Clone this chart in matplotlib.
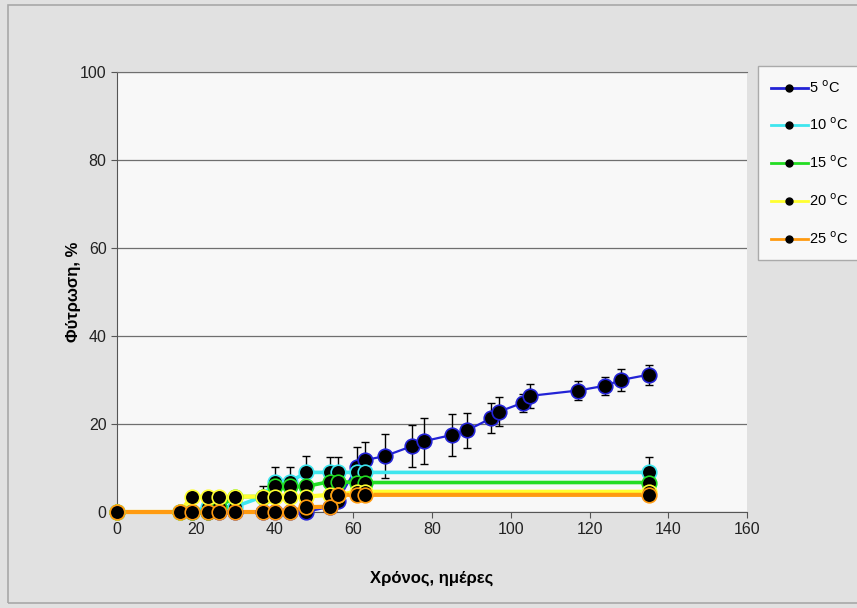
import matplotlib
matplotlib.use('Agg')
import matplotlib.pyplot as plt
from matplotlib.lines import Line2D
from matplotlib.patches import Rectangle
import numpy as np

plt.rcParams['font.family'] = ['Liberation Sans', 'DejaVu Sans']

# sampling days (common to all temperatures)
days = [0, 16, 19, 23, 26, 30, 37, 40, 44, 48, 54, 56, 61, 63, 135]

# 5 oC was followed for longer
days_5 = [0, 16, 19, 23, 26, 30, 37, 40, 44, 48, 54, 56, 61, 63, 68, 75, 78,
          85, 89, 95, 97, 103, 105, 117, 124, 128, 135]
germ_5 = [0, 0, 0, 0, 0, 0, 0, 0, 0, 0, 1.2, 2.5, 10.3, 11.8, 12.7, 15.0, 16.1,
          17.5, 18.6, 21.3, 22.8, 24.8, 26.4, 27.6, 28.7, 30.0, 31.2]
err_5 = [0, 0, 0, 0, 0, 0, 0, 0, 0, 0, 0, 0, 4.4, 4.2, 5.0, 4.7, 5.2,
         4.7, 4.0, 3.4, 3.3, 2.1, 2.8, 2.1, 2.0, 2.5, 2.3]

germ_10 = [0, 0, 0, 1.2, 1.2, 1.2, 3.5, 6.9, 6.9, 9.0, 9.0, 9.0, 9.0, 9.0, 9.0]
err_10 = [0, 0, 0, 0, 0, 0, 0, 3.4, 3.4, 3.8, 3.4, 3.4, 0, 0, 3.6]

germ_15 = [0, 0, 0, 0, 1.2, 3.5, 3.5, 5.8, 5.8, 5.8, 6.9, 6.9, 6.7, 6.7, 6.7]
err_15 = [0] * 15

germ_20 = [0, 0, 3.5, 3.5, 3.5, 3.5, 3.5, 3.5, 3.5, 3.5, 3.9, 3.9, 4.6, 4.6, 4.6]
err_20 = [0, 0, 0, 0, 0, 0, 2.3, 0, 0, 0, 0, 0, 0, 0, 0]

germ_25 = [0, 0, 0, 0, 0, 0, 0, 0, 0, 1.1, 1.2, 3.9, 3.9, 3.9, 3.9]
err_25 = [0] * 15

labels = [r'5 $^{\rm o}$C', r'10 $^{\rm o}$C', r'15 $^{\rm o}$C',
          r'20 $^{\rm o}$C', r'25 $^{\rm o}$C']
colors = ['#2323d6', '#3ee6ee', '#22dd22', '#ffff30', '#ff9a10']

series = [(days_5, germ_5, err_5, 1.6),
          (days, germ_10, err_10, 2.6),
          (days, germ_15, err_15, 2.6),
          (days, germ_20, err_20, 3.0),
          (days, germ_25, err_25, 3.0)]

fig = plt.figure(figsize=(8.57, 6.08), dpi=100)
fig.patch.set_facecolor('#e1e1e1')

# outer chart frame
fig.patches.append(Rectangle((8 / 857, 5 / 608), 860 / 857, 598 / 608,
                             transform=fig.transFigure, fill=False,
                             edgecolor='#a8a8a8', linewidth=1.2))

ax = fig.add_axes([117 / 857, 1 - 512 / 608, 630 / 857, 440 / 608])
ax.set_facecolor('#f8f8f8')

for i, (x, y, e, lw) in enumerate(series):
    x = np.array(x)
    y = np.array(y)
    e = np.array(e)
    ax.plot(x, y, color=colors[i], lw=lw, zorder=2 + i, clip_on=False)
    m = e > 0
    if m.any():
        ax.errorbar(x[m], y[m], yerr=e[m], fmt='none', ecolor='black',
                    elinewidth=1.0, capsize=3, capthick=1.0, zorder=1.5)
    ax.plot(x, y, 'o', ms=10.5, mfc='black', mec=colors[i], mew=1.2,
            zorder=7 + i, clip_on=False)

ax.set_xlim(0, 160)
ax.set_ylim(0, 100)
ax.set_xticks(np.arange(0, 161, 20))
ax.set_yticks(np.arange(0, 101, 20))
ax.yaxis.grid(True, color='#6f6f6f', lw=0.9)
ax.set_axisbelow(True)
ax.tick_params(labelsize=11.5, labelcolor='#222222', color='#555555',
               direction='out', length=4)
ax.spines['right'].set_visible(False)
ax.spines['top'].set_color('#6f6f6f')
ax.spines['left'].set_color('#555555')
ax.spines['bottom'].set_color('#555555')

ax.set_xlabel('Χρόνος, ημέρες', fontsize=12, fontweight='bold', labelpad=24)
ax.set_ylabel('Φύτρωση, %', fontsize=12, fontweight='bold')
ax.yaxis.set_label_coords(-0.057, 0.5)

handles = [Line2D([0], [0], color=c, lw=2, marker='o', ms=5, mfc='black',
                  mec='black') for c in colors]
leg = fig.legend(handles, labels, loc='upper left',
                 bbox_to_anchor=(758 / 857, 1 - 66 / 608), fontsize=10.5,
                 frameon=True, fancybox=False, edgecolor='#9a9a9a',
                 labelspacing=1.45, handlelength=2.5, handletextpad=0.1,
                 borderpad=0.9, borderaxespad=0)
leg.get_frame().set_facecolor('white')
leg.get_frame().set_linewidth(1.0)

fig.savefig('out.png', dpi=100, facecolor=fig.get_facecolor())
